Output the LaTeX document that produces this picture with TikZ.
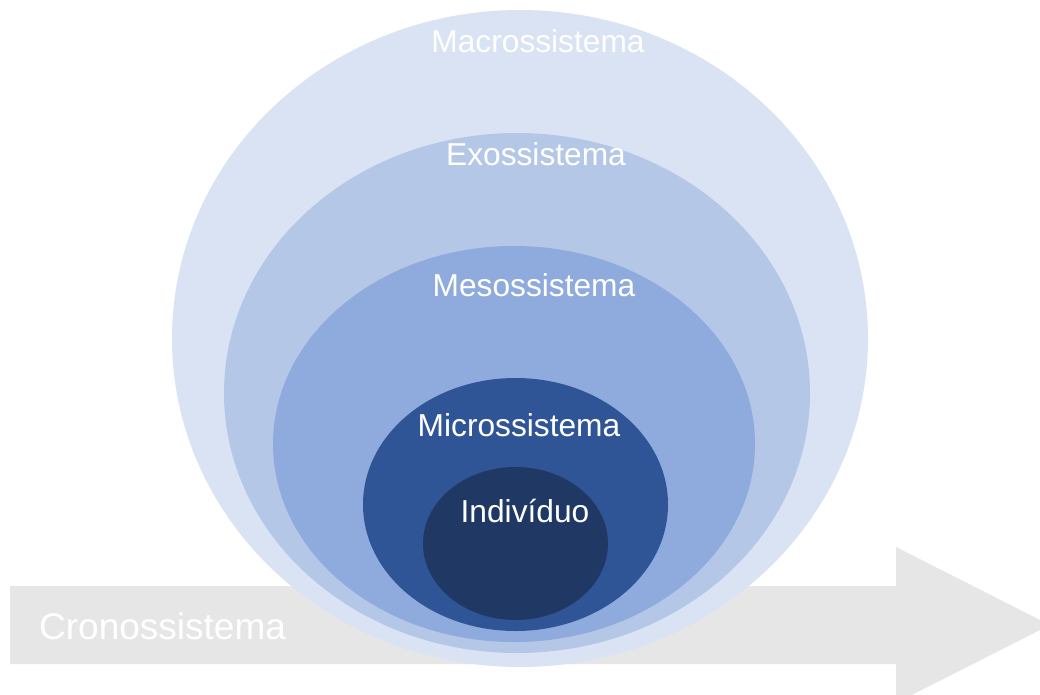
\documentclass[tikz,border=0pt]{standalone}
\usepackage{fontspec}
\setmainfont{Liberation Sans}
\usetikzlibrary{shapes.geometric}

\definecolor{macroc}{HTML}{DAE3F3}
\definecolor{exoc}{HTML}{B4C7E7}
\definecolor{mesoc}{HTML}{8FAADC}
\definecolor{microc}{HTML}{2F5597}
\definecolor{indivc}{HTML}{203864}
\definecolor{cronoc}{HTML}{E7E6E6}

\tikzset{
  sphere/.style={ellipse, inner sep=0pt, draw=none},
  lbl/.style={text=white, inner sep=0pt, anchor=base, font=\fontsize{31.7}{36}\selectfont}
}

\begin{document}
\begin{tikzpicture}[x=1pt,y=-1pt]
\useasboundingbox (0,0) rectangle (1040,695);
\clip (0,0) rectangle (1040,695);

% time arrow
\fill[cronoc] (10,586) -- (896,586) -- (896,547) -- (1050,625) -- (896,703) -- (896,664) -- (10,664) -- cycle;
\node[lbl, anchor=base west, font=\fontsize{37}{42}\selectfont] (crono) at (39,639) {Cronossistema};

% macro system node
\node[sphere, fill=macroc, minimum width=696pt, minimum height=657pt] (macro) at (520,338.5) {};
\node[lbl] (macrolbl) at (538,53) {Macrossistema};

% exo system node
\node[sphere, fill=exoc, minimum width=586pt, minimum height=520pt] (exo) at (517,393) {};
\node[lbl] (exolbl) at (536,166) {Exossistema};

% meso system node
\node[sphere, fill=mesoc, minimum width=482pt, minimum height=396pt] (meso) at (514,444) {};
\node[lbl] (mesolbl) at (534,296) {Mesossistema};

% micro system node
\node[sphere, fill=microc, minimum width=305pt, minimum height=253pt] (micro) at (515.5,504.5) {};
\node[lbl] (microlbl) at (519,436) {Microssistema};

% individual node
\node[sphere, fill=indivc, minimum width=185pt, minimum height=153pt] (indiv) at (515.5,543.5) {};
\node[lbl] (indivlbl) at (525,522) {Indivíduo};

\end{tikzpicture}
\end{document}
